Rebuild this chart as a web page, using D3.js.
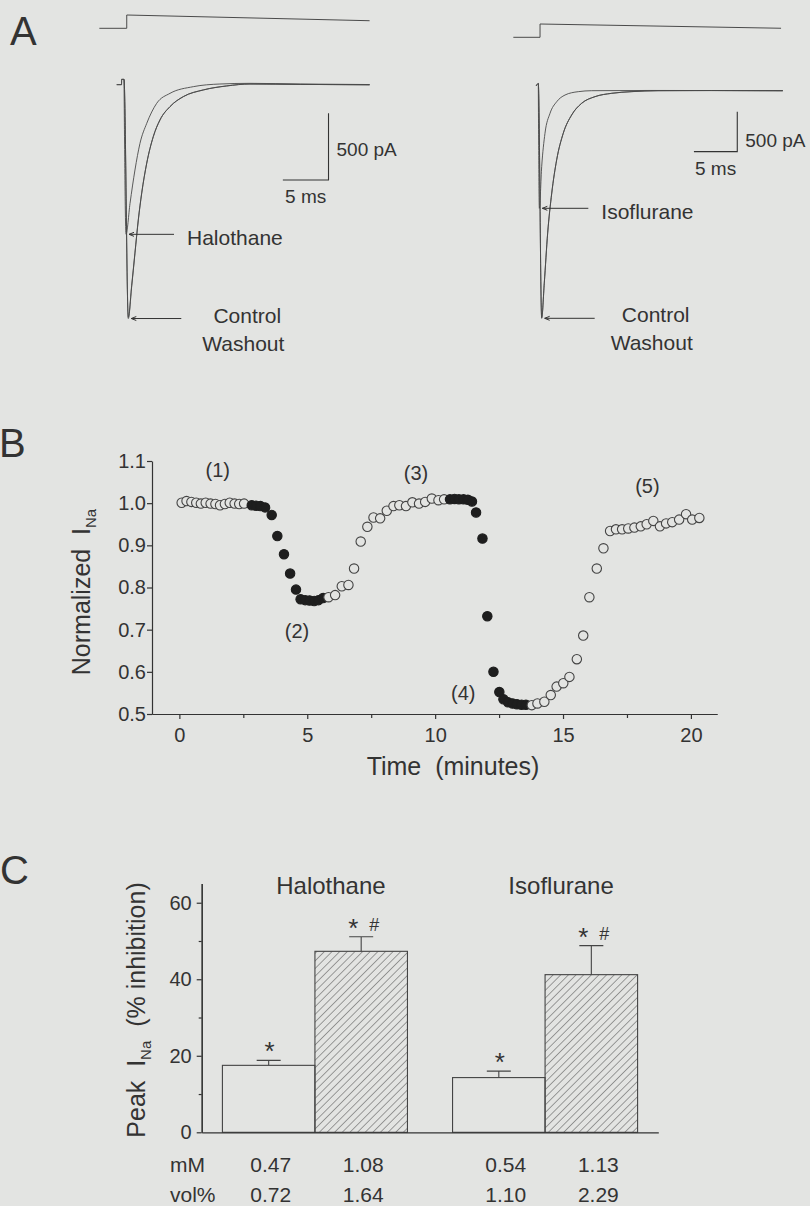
<!DOCTYPE html>
<html>
<head>
<meta charset="utf-8">
<script src="https://cdn.jsdelivr.net/npm/d3@7"></script>
<style>
  body { margin: 0; background: #e3e4e2; }
  svg { display: block; font-family: 'Liberation Sans', Arial, sans-serif; }
  .axis path, .axis line { stroke: #333; stroke-width: 1.2; }
  .axis text { font-size: 20px; fill: #333; font-family: 'Liberation Sans', Arial, sans-serif; }
  text { fill: #333; white-space: pre; }
</style>
</head>
<body>
<svg id="fig"></svg>
<script>
/* global d3 */

// ---- panel A : current traces (ms, pA) ----
const stepTimesLeft = [-2.7, 0.3, 0.3, 26.9]
const stepLevelsLeft = [0, 0, 1, 0.57]
const controlTimesLeft = [-0.8, -0.27, -0.26, 0, 0.47, 0.84, 1.2, 1.57, 1.94, 2.49, 3.21, 3.94, 5.04, 6.5, 8.69, 11.25, 13.8, 19.3, 26.9]
const controlLeft = [-5, -5, 35, 35, -1758, -1520, -1270, -1020, -820, -595, -395, -270, -170, -95, -45, -15, 0, -3, -6]
const washoutLeft = [-5, -5, 35, 35, -1748, -1510, -1264, -1014, -815, -592, -393, -269, -169, -94, -44, -14, 0, -3, -6]
const halothaneTimes = [0, 0.22, 0.66, 1.2, 1.75, 2.49, 3.58, 5.04, 7.59, 10.5, 13.8, 19.3, 26.9]
const halothaneTrace = [35, -1127, -895, -645, -445, -295, -145, -70, -20, 0, 5, 0, -4]

const stepTimesRight = [-2.88, 0.2, 0.2, 28.0]
const stepLevelsRight = [0, 0, 1, 0.68]
const controlTimesRight = [-0.25, 0, 0.39, 0.69, 1.08, 1.55, 2.12, 2.88, 3.85, 5.0, 6.54, 8.47, 10.8, 13.8, 20, 28.2]
const controlRight = [60, 90, -2845, -2408, -1783, -1283, -866, -533, -304, -158, -75, -33, -12, 0, 2, 0]
const washoutRight = [60, 90, -2835, -2400, -1776, -1278, -862, -530, -302, -157, -74, -32, -11, 0, 2, 0]
const isofluraneTimes = [0, 0.12, 0.39, 0.77, 1.35, 2.12, 3.08, 4.61, 6.16, 12.9, 20, 28.2]
const isofluraneTrace = [90, -1470, -950, -533, -283, -138, -54, -12, 0, 3, 2, 0]

// ---- panel B : normalized INa over time ----
const control1Times = [0.09, 0.28, 0.47, 0.66, 0.84, 1.03, 1.22, 1.41, 1.59, 1.78, 1.97, 2.16, 2.34, 2.53]
const control1Values = [1.001, 1.005, 1.003, 1.001, 0.999, 1.001, 0.999, 0.998, 0.995, 0.998, 1.001, 0.999, 0.998, 0.999]
const halothaneTimesB = [2.83, 3.00, 3.17, 3.35, 3.61, 3.83, 4.09, 4.33, 4.56, 4.74, 4.92, 5.09, 5.27, 5.44, 5.62]
const halothaneValuesB = [0.995, 0.994, 0.993, 0.990, 0.972, 0.922, 0.879, 0.833, 0.795, 0.772, 0.770, 0.769, 0.768, 0.770, 0.775]
const washout1Times = [5.83, 6.09, 6.35, 6.61, 6.83, 7.09, 7.35, 7.59, 7.85, 8.11, 8.37, 8.60, 8.86, 9.11, 9.37, 9.61, 9.87, 10.13, 10.35]
const washout1Values = [0.777, 0.782, 0.803, 0.806, 0.845, 0.909, 0.944, 0.966, 0.964, 0.982, 0.993, 0.995, 0.993, 1.002, 0.999, 1.003, 1.011, 1.007, 1.009]
const isofluraneTimesB = [10.58, 10.76, 10.93, 11.11, 11.28, 11.44, 11.60, 11.85, 12.04, 12.28, 12.51, 12.67, 12.85, 13.03, 13.20, 13.38, 13.55]
const isofluraneValuesB = [1.009, 1.010, 1.009, 1.009, 1.008, 1.004, 0.978, 0.916, 0.732, 0.600, 0.552, 0.535, 0.528, 0.525, 0.523, 0.522, 0.522]
const washout2Times = [13.78, 14.00, 14.27, 14.52, 14.75, 15.01, 15.25, 15.54, 15.79, 16.03, 16.32, 16.58, 16.84, 17.07, 17.31, 17.55, 17.79, 18.04, 18.27, 18.53, 18.79, 19.03, 19.27, 19.54, 19.81, 20.05, 20.33]
const washout2Values = [0.521, 0.525, 0.529, 0.545, 0.565, 0.573, 0.588, 0.630, 0.686, 0.777, 0.845, 0.893, 0.934, 0.938, 0.938, 0.940, 0.942, 0.945, 0.950, 0.958, 0.945, 0.952, 0.955, 0.961, 0.974, 0.961, 0.965]
const bXTicks = [0, 5, 10, 15, 20]
const bXMinor = [2.5, 7.5, 12.5, 17.5]
const bYTicks = [0.5, 0.6, 0.7, 0.8, 0.9, 1.0, 1.1]
const phaseLabels = ['(1)', '(2)', '(3)', '(4)', '(5)']
const phaseLabelTimes = [1.5, 4.6, 9.25, 11.1, 18.3]
const phaseLabelLevels = [1.063, 0.68, 1.055, 0.533, 1.024]

// ---- panel C : % inhibition ----
const agents = ['Halothane', 'Isoflurane']
const doses = ['low', 'high']
const halothaneInhib = [17.5, 47.3]
const halothaneSem = [1.3, 3.8]
const isofluraneInhib = [14.3, 41.2]
const isofluraneSem = [1.7, 7.6]
const halothaneMM = ['0.47', '1.08']
const halothaneVol = ['0.72', '1.64']
const isofluraneMM = ['0.54', '1.13']
const isofluraneVol = ['1.10', '2.29']
const versusBaseline = [true, true] // '*'
const versusLowDose = [false, true] // '#'
const cYTicks = [0, 20, 40, 60]
const cYMinor = [10, 30, 50]

document.addEventListener('DOMContentLoaded', function () {
  const width = 810
  const height = 1206
  const colours = {
    bg: '#e3e4e2',
    ink: '#333333',
    trace: '#4a4a4a',
    hatch: '#5a5a5a'
  }

  const svg = d3.select('#fig')
    .attr('width', width)
    .attr('height', height)

  const panelLetter = (txt, x, y) => {
    svg.append('text').attr('x', x).attr('y', y)
      .style('font-size', '40px').text(txt)
  }
  panelLetter('A', 10, 45)
  panelLetter('B', -1, 457)
  panelLetter('C', 0, 884)

  // ================= panel A =================
  const zip = (ts, vs) => ts.map((t, i) => ({ t: t, v: vs[i] }))

  const drawTraces = (cfg) => {
    const x = d3.scaleLinear().domain([0, 5]).range([cfg.x0, cfg.x0 + cfg.pxPer5ms])
    const y = d3.scaleLinear().domain([0, -500]).range([cfg.y0, cfg.y0 + cfg.pxPer500pA])
    const yStep = d3.scaleLinear().domain([0, 1]).range(cfg.stepRange)
    const g = svg.append('g').attr('id', cfg.id)

    g.append('path')
      .attr('d', d3.line().x(d => x(d.t)).y(d => yStep(d.v))(zip(cfg.stepTimes, cfg.stepLevels)))
      .attr('fill', 'none').attr('stroke', colours.trace).attr('stroke-width', 1)

    const line = d3.line().x(d => x(d.t)).y(d => y(d.v)).curve(d3.curveMonotoneX)
    cfg.traces.forEach(tr => {
      g.append('path')
        .attr('d', line(zip(tr.times, tr.values)))
        .attr('fill', 'none').attr('stroke', colours.trace).attr('stroke-width', 0.9)
    })

    // scale bars
    const cx = x(cfg.barCorner[0])
    const cy = y(cfg.barCorner[1])
    g.append('path')
      .attr('d', 'M' + x(cfg.barCorner[0] - 5) + ',' + cy + 'H' + cx + 'V' + y(cfg.barCorner[1] + 500))
      .attr('fill', 'none').attr('stroke', colours.ink).attr('stroke-width', 1.1)
    g.append('text').attr('x', cx + 8).attr('y', (cy + y(cfg.barCorner[1] + 500)) / 2 + 9 + cfg.pAshift)
      .style('font-size', '19px').text('500 pA')
    g.append('text').attr('x', x(cfg.barCorner[0] - 2.5)).attr('y', cy + 23)
      .attr('text-anchor', 'middle').style('font-size', '19px').text('5 ms')

    // arrows to peaks
    const arrow = (tr, len) => {
      const i = d3.minIndex(tr.values)
      const ax = x(tr.times[i]) + 3
      const ay = y(tr.values[i])
      g.append('path')
        .attr('d', 'M' + ax + ',' + ay + 'H' + (ax + len) + 'M' + ax + ',' + ay + 'l5,-2M' + ax + ',' + ay + 'l5,2')
        .attr('fill', 'none').attr('stroke', colours.ink).attr('stroke-width', 1)
      return [ax + len, ay]
    }
    const a1 = arrow(cfg.traces[2], cfg.drugArrow)
    g.append('text').attr('x', a1[0] + 13).attr('y', a1[1] + 11)
      .style('font-size', '21px').text(cfg.drugName)
    const a2 = arrow(cfg.traces[0], 50)
    g.append('text').attr('x', a2[0] + cfg.ctrlOffset).attr('y', a2[1] + 4)
      .attr('text-anchor', 'middle').style('font-size', '21px').text('Control')
    g.append('text').attr('x', a2[0] + cfg.ctrlOffset - 4).attr('y', a2[1] + 32)
      .attr('text-anchor', 'middle').style('font-size', '21px').text('Washout')
  }

  drawTraces({
    id: 'tracesLeft',
    x0: 124, pxPer5ms: 45.65, y0: 84, pxPer500pA: 66.7,
    stepRange: [28.3, 15],
    stepTimes: stepTimesLeft, stepLevels: stepLevelsLeft,
    traces: [
      { times: controlTimesLeft, values: controlLeft },
      { times: controlTimesLeft, values: washoutLeft },
      { times: halothaneTimes, values: halothaneTrace }
    ],
    barCorner: [22.4, -720],
    pAshift: 0,
    drugName: 'Halothane',
    drugArrow: 45,
    ctrlOffset: 66
  })

  drawTraces({
    id: 'tracesRight',
    x0: 538.3, pxPer5ms: 43.35, y0: 90.7, pxPer500pA: 40,
    stepRange: [37.3, 24],
    stepTimes: stepTimesRight, stepLevels: stepLevelsRight,
    traces: [
      { times: controlTimesRight, values: controlRight },
      { times: controlTimesRight, values: washoutRight },
      { times: isofluraneTimes, values: isofluraneTrace }
    ],
    barCorner: [22.95, -762],
    pAshift: 6,
    drugName: 'Isoflurane',
    drugArrow: 46,
    ctrlOffset: 61
  })

  // ================= panel B =================
  const bX = d3.scaleLinear().domain([-1.07, 21.02]).range([152, 717])
  const bY = d3.scaleLinear().domain([0.5, 1.1]).range([714, 461])

  svg.append('g').attr('class', 'axis')
    .attr('transform', 'translate(0,714)')
    .call(d3.axisBottom(bX).tickValues(bXTicks).tickSize(5).tickPadding(9).tickSizeOuter(0))
  svg.append('g').attr('class', 'axis')
    .attr('transform', 'translate(0,714)')
    .call(d3.axisBottom(bX).tickValues(bXMinor).tickSize(4).tickFormat('').tickSizeOuter(0))
  svg.append('g').attr('class', 'axis')
    .attr('transform', 'translate(152,0)')
    .call(d3.axisLeft(bY).tickValues(bYTicks).tickSize(5).tickPadding(1).tickFormat(d3.format('.1f')).tickSizeOuter(0))

  const bPoints = []
  const addPhase = (ts, vs, filled) => ts.forEach((t, i) => bPoints.push({ t: t, v: vs[i], filled: filled }))
  addPhase(control1Times, control1Values, false)
  addPhase(halothaneTimesB, halothaneValuesB, true)
  addPhase(washout1Times, washout1Values, false)
  addPhase(isofluraneTimesB, isofluraneValuesB, true)
  addPhase(washout2Times, washout2Values, false)

  svg.append('g').attr('id', 'timecourse')
    .selectAll('circle')
    .data(bPoints)
    .enter()
    .append('circle')
    .attr('cx', d => bX(d.t))
    .attr('cy', d => bY(d.v))
    .attr('r', 4.7)
    .style('fill', d => d.filled ? '#1e1e1e' : colours.bg)
    .style('stroke', d => d.filled ? '#1e1e1e' : '#444')
    .style('stroke-width', 1.1)

  svg.append('g').selectAll('text')
    .data(phaseLabels)
    .enter()
    .append('text')
    .attr('x', (d, i) => bX(phaseLabelTimes[i]))
    .attr('y', (d, i) => bY(phaseLabelLevels[i]))
    .attr('text-anchor', 'middle')
    .style('font-size', '20px')
    .text(d => d)

  const bYLabel = svg.append('text')
    .attr('transform', 'translate(90,592) rotate(-90)')
    .attr('text-anchor', 'middle')
    .style('font-size', '25px')
  bYLabel.append('tspan').text('Normalized  I')
  bYLabel.append('tspan').attr('dy', 6).style('font-size', '15px').text('Na')

  svg.append('text')
    .attr('x', 453).attr('y', 775)
    .attr('text-anchor', 'middle')
    .style('font-size', '25px')
    .text('Time  (minutes)')

  // ================= panel C =================
  const cOuter = d3.scaleBand().domain(agents).range([201.7, 658.3]).paddingInner(0.196).paddingOuter(0.09)
  const cInner = d3.scaleBand().domain(doses).range([0, cOuter.bandwidth()])
  const cY = d3.scaleLinear().domain([0, 65]).range([1132.3, 883.6])

  const defs = svg.append('defs')
  defs.append('pattern')
    .attr('id', 'hatch')
    .attr('patternUnits', 'userSpaceOnUse')
    .attr('width', 5.4).attr('height', 5.4)
    .attr('patternTransform', 'rotate(45)')
    .append('line')
    .attr('x1', 0).attr('y1', 0).attr('x2', 0).attr('y2', 5.4)
    .attr('stroke', colours.hatch).attr('stroke-width', 1.1)

  const cRows = [
    { agent: 'Halothane', inhib: halothaneInhib, sem: halothaneSem, mM: halothaneMM, vol: halothaneVol, labelShift: 0 },
    { agent: 'Isoflurane', inhib: isofluraneInhib, sem: isofluraneSem, mM: isofluraneMM, vol: isofluraneVol, labelShift: 5 }
  ]

  const bars = svg.append('g').attr('id', 'bars')
  cRows.forEach(row => {
    const gx = cOuter(row.agent)
    doses.forEach((dose, i) => {
      const x0 = gx + cInner(dose)
      const w = cInner.bandwidth()
      const mid = x0 + w / 2
      const top = cY(row.inhib[i])
      const errTop = cY(row.inhib[i] + row.sem[i])
      bars.append('rect')
        .attr('x', x0).attr('y', top)
        .attr('width', w).attr('height', cY(0) - top)
        .style('fill', i === 1 ? 'url(#hatch)' : colours.bg)
        .style('stroke', '#444').style('stroke-width', 1.1)
      bars.append('path')
        .attr('d', 'M' + mid + ',' + top + 'V' + errTop + 'M' + (mid - 12) + ',' + errTop + 'H' + (mid + 12))
        .attr('fill', 'none').attr('stroke', '#444').attr('stroke-width', 1.1)
      if (versusBaseline[i]) {
        bars.append('text')
          .attr('x', versusLowDose[i] ? mid - 8 : mid + 1).attr('y', errTop)
          .attr('text-anchor', 'middle').style('font-size', '26px')
          .text('*')
      }
      if (versusLowDose[i]) {
        bars.append('text')
          .attr('x', mid + 13).attr('y', errTop - 6)
          .attr('text-anchor', 'middle').style('font-size', '18px')
          .text('#')
      }
      bars.append('text')
        .attr('x', mid + 2 + row.labelShift).attr('y', 1171.7)
        .attr('text-anchor', 'middle').style('font-size', '21px')
        .text(row.mM[i])
      bars.append('text')
        .attr('x', mid + 2 + row.labelShift).attr('y', 1201.7)
        .attr('text-anchor', 'middle').style('font-size', '21px')
        .text(row.vol[i])
    })
    svg.append('text')
      .attr('x', gx + cOuter.bandwidth() / 2 + 16).attr('y', 894)
      .attr('text-anchor', 'middle').style('font-size', '24px')
      .text(row.agent)
  })

  svg.append('text').attr('x', 170).attr('y', 1171.7).style('font-size', '21px').text('mM')
  svg.append('text').attr('x', 170).attr('y', 1201.7).style('font-size', '21px').text('vol%')

  svg.append('g').attr('class', 'axis')
    .attr('transform', 'translate(0,' + cY(0) + ')')
    .call(d3.axisBottom(cOuter).tickValues([]).tickSizeOuter(0))
  svg.append('g').attr('class', 'axis')
    .attr('transform', 'translate(201.7,0)')
    .call(d3.axisLeft(cY).tickValues(cYTicks).tickSize(5).tickPadding(5).tickSizeOuter(0))
  svg.append('g').attr('class', 'axis')
    .attr('transform', 'translate(201.7,0)')
    .call(d3.axisLeft(cY).tickValues(cYMinor).tickSize(3).tickFormat('').tickSizeOuter(0))

  const cYLabel = svg.append('text')
    .attr('transform', 'translate(145,1010) rotate(-90)')
    .attr('text-anchor', 'middle')
    .style('font-size', '25px')
  cYLabel.append('tspan').text('Peak  I')
  cYLabel.append('tspan').attr('dy', 6).style('font-size', '15px').text('Na')
  cYLabel.append('tspan').attr('dy', -6).text('  (% inhibition)')
}, false)
</script>
</body>
</html>
